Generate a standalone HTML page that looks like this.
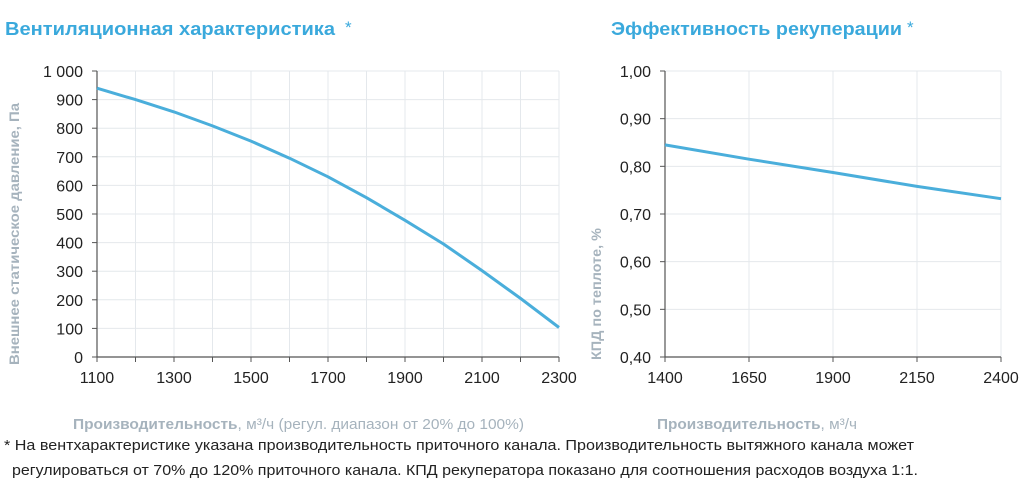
<!DOCTYPE html>
<html><head><meta charset="utf-8"><style>
html,body{margin:0;padding:0;background:#fff;}
svg{display:block;font-family:"Liberation Sans",sans-serif;}
</style></head><body>
<svg width="1024" height="486" viewBox="0 0 1024 486">
<text x="5" y="35" font-size="18" font-weight="bold" fill="#3aa9dc" textLength="330" lengthAdjust="spacingAndGlyphs">Вентиляционная характеристика</text>
<text x="345" y="33" font-size="17" fill="#3aa9dc">*</text>
<text x="611" y="35" font-size="18" font-weight="bold" fill="#3aa9dc" textLength="291" lengthAdjust="spacingAndGlyphs">Эффективность рекуперации</text>
<text x="907" y="33" font-size="17" fill="#3aa9dc">*</text>
<g id="left"></g>
<g id="right"></g>
<text transform="translate(19,365) rotate(-90)" font-size="14" font-weight="bold" fill="#a6b3bd" textLength="262" lengthAdjust="spacingAndGlyphs">Внешнее статическое давление, Па</text>
<text transform="translate(601,360) rotate(-90)" font-size="14" font-weight="bold" fill="#a6b3bd" textLength="132" lengthAdjust="spacingAndGlyphs">КПД по теплоте, %</text>
<text x="73" y="429" font-size="15" fill="#a6b3bd" textLength="451" lengthAdjust="spacingAndGlyphs"><tspan font-weight="bold">Производительность</tspan>, м³/ч (регул. диапазон от 20% до 100%)</text>
<text x="657" y="429" font-size="15" fill="#a6b3bd" textLength="200" lengthAdjust="spacingAndGlyphs"><tspan font-weight="bold">Производительность</tspan>, м³/ч</text>
<text x="4" y="450" font-size="15" fill="#222" textLength="910" lengthAdjust="spacingAndGlyphs">* На вентхарактеристике указана производительность приточного канала. Производительность вытяжного канала может</text>
<text x="12" y="475" font-size="15" fill="#222" textLength="906" lengthAdjust="spacingAndGlyphs">регулироваться от 70% до 120% приточного канала. КПД рекуператора показано для соотношения расходов воздуха 1:1.</text>
</svg>
<script>
const NS="http://www.w3.org/2000/svg";
const fanX=[1100,1200,1300,1400,1500,1600,1700,1800,1900,2000,2100,2200,2300];
const fanP=[940,900,857,808,755,695,630,557,478,395,302,205,103];
const fanXTicks=[1100,1300,1500,1700,1900,2100,2300];
const fanYTicks=[0,100,200,300,400,500,600,700,800,900,1000];
const fanYLabels=["0","100","200","300","400","500","600","700","800","900","1 000"];
const effX=[1400,1650,1900,2150,2400];
const effV=[0.845,0.815,0.787,0.758,0.732];
const effYTicks=[0.4,0.5,0.6,0.7,0.8,0.9,1.0];
const effYLabels=["0,40","0,50","0,60","0,70","0,80","0,90","1,00"];

function mk(tag,attrs,parent){const e=document.createElementNS(NS,tag);for(const k in attrs)e.setAttribute(k,attrs[k]);parent.appendChild(e);return e;}

function chart(g,o){
  const sx=v=>o.x0+(v-o.xmin)/(o.xmax-o.xmin)*(o.x1-o.x0);
  const sy=v=>o.y0-(v-o.ymin)/(o.ymax-o.ymin)*(o.y0-o.y1);
  o.vgrid.forEach(v=>{
    const l=mk('line',{x1:sx(v),x2:sx(v),y1:o.y1,y2:o.y0,stroke:'#e4e8ec','stroke-width':1},g);
    
    
    const t=mk('line',{x1:sx(v),x2:sx(v),y1:o.y0,y2:o.y0+5,stroke:'#555','stroke-width':1},g);
    
    
  });
  o.yt.forEach((v,i)=>{
    if(i>0){const l=mk('line',{x1:o.x0,x2:o.x1,y1:sy(v),y2:sy(v),stroke:'#e4e8ec','stroke-width':1},g);
    
    }
    const tk=mk('line',{x1:o.x0-5,x2:o.x0,y1:sy(v),y2:sy(v),stroke:'#555','stroke-width':1},g);
    
    
    const t=mk('text',{x:o.x0-14,y:sy(v)+6,'font-size':16,'text-anchor':'end',fill:'#222'},g);
    t.textContent=o.yl[i];
    
    
  });
  o.xt.forEach(v=>{
    const t=mk('text',{x:sx(v),y:o.y0+26,'font-size':16,'text-anchor':'middle',fill:'#222'},g);
    t.textContent=String(v);
    
    
  });
  const ax=mk('path',{d:`M${o.x0},${o.y1}V${o.y0}H${o.x1}`,fill:'none',stroke:'#555','stroke-width':1.2},g);
  
  
  const d=o.xs.map((x,i)=>(i?'L':'M')+sx(x).toFixed(1)+','+sy(o.ys[i]).toFixed(1)).join('');
  const p=mk('path',{d:d,fill:'none',stroke:'#4aaedb','stroke-width':3,'stroke-linejoin':'round'},g);
  
  
}
chart(document.getElementById('left'),{x0:97,x1:559,y0:357,y1:71,xmin:1100,xmax:2300,ymin:0,ymax:1000,
  vgrid:fanX,xt:fanXTicks,yt:fanYTicks,yl:fanYLabels,xs:fanX,ys:fanP});
chart(document.getElementById('right'),{x0:665,x1:1001,y0:357,y1:71,xmin:1400,xmax:2400,ymin:0.4,ymax:1.0,
  vgrid:effX,xt:effX,yt:effYTicks,yl:effYLabels,xs:effX,ys:effV});
</script>
</body></html>
